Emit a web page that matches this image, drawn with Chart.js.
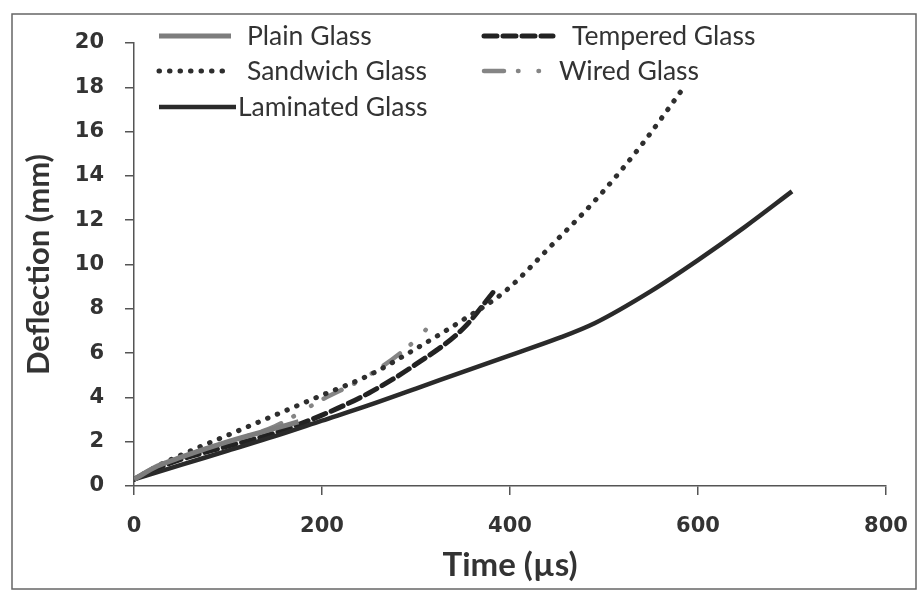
<!DOCTYPE html>
<html>
<head>
<meta charset="utf-8">
<script src="https://cdn.jsdelivr.net/npm/chart.js@4/dist/chart.umd.min.js"></script>
<style>
  html, body { margin: 0; padding: 0; background: #fff; }
  #wrap { width: 919px; height: 597px; }
</style>
</head>
<body>
<div id="wrap"><canvas id="chart" width="919" height="597"></canvas></div>
<script>
// time (µs) / deflection (mm)
const plainTime = [0, 25, 50, 100, 150, 175];
const plainDefl = [0.3, 0.9, 1.3, 2.0, 2.6, 2.9];

const temperedTime = [0, 25, 50, 100, 150, 200, 250, 300, 350, 385];
const temperedDefl = [0.3, 0.8, 1.2, 1.8, 2.4, 3.2, 4.2, 5.5, 7.1, 8.9];

const sandwichTime = [0, 25, 50, 100, 150, 200, 250, 300, 350, 395, 445, 495, 540, 585];
const sandwichDefl = [0.3, 0.9, 1.4, 2.3, 3.2, 4.1, 5.0, 6.2, 7.5, 8.8, 10.9, 13.1, 15.4, 18.0];

const wiredTime = [0, 25, 50, 100, 150, 200, 250, 300, 320];
const wiredDefl = [0.3, 0.9, 1.3, 2.0, 2.7, 3.9, 5.0, 6.6, 7.5];

const laminatedTime = [0, 50, 100, 150, 200, 250, 300, 350, 400, 450, 490, 550, 600, 650, 700];
const laminatedDefl = [0.3, 0.95, 1.6, 2.25, 2.95, 3.65, 4.4, 5.15, 5.9, 6.65, 7.35, 8.8, 10.2, 11.7, 13.3];

const xTicks = [0, 200, 400, 600, 800];
const yTicks = [0, 2, 4, 6, 8, 10, 12, 14, 16, 18, 20];

function pts(t, d) {
    return t.map((v, i) => ({ x: v, y: d[i] }));
}

// legend placement (two columns, three rows like the original)
const legendSpots = {
    "Plain Glass":     { x1: 159, x2: 231, tx: 247, y: 36 },
    "Sandwich Glass":  { x1: 159, x2: 231, tx: 247, y: 71 },
    "Laminated Glass": { x1: 159, x2: 236, tx: 238, y: 107 },
    "Tempered Glass":  { x1: 484, x2: 553, tx: 572, y: 36 },
    "Wired Glass":     { x1: 484, x2: 553, tx: 559, y: 71 }
};

const legendPlugin = {
    id: "legendPlugin",
    afterDraw(c) {
        const ctx = c.ctx;
        c.data.datasets.forEach(ds => {
            const s = legendSpots[ds.label];
            ctx.save();
            ctx.strokeStyle = ds.borderColor;
            ctx.lineWidth = ds.borderWidth;
            ctx.lineCap = ds.borderCapStyle || "butt";
            ctx.setLineDash(ds.borderDash || []);
            ctx.beginPath();
            ctx.moveTo(s.x1, s.y);
            ctx.lineTo(s.x2, s.y);
            ctx.stroke();
            ctx.setLineDash([]);
            ctx.fillStyle = "#333";
            ctx.font = "26.5px Lato";
            ctx.textBaseline = "middle";
            ctx.fillText(ds.label, s.tx, s.y);
            ctx.restore();
        });
    }
};

const framePlugin = {
    id: "framePlugin",
    beforeDraw(c) {
        const ctx = c.ctx;
        ctx.save();
        ctx.fillStyle = "#fff";
        ctx.fillRect(0, 0, c.width, c.height);
        ctx.strokeStyle = "#666";
        ctx.lineWidth = 1.5;
        ctx.strokeRect(12, 14, 904, 575);
        ctx.restore();
    }
};

const tickFont = { family: "DejaVu Sans", size: 21, weight: "bold" };
const titleFont = { family: "Lato", size: 33, weight: "bold" };

new Chart(document.getElementById("chart"), {
    type: "line",
    data: {
        datasets: [
            {
                label: "Plain Glass",
                data: pts(plainTime, plainDefl),
                borderColor: "#7d7d7d",
                borderWidth: 5
            },
            {
                label: "Sandwich Glass",
                data: pts(sandwichTime, sandwichDefl),
                borderColor: "#2e2e2e",
                borderWidth: 5,
                borderDash: [0.5, 10],
                borderCapStyle: "round"
            },
            {
                label: "Laminated Glass",
                data: pts(laminatedTime, laminatedDefl),
                borderColor: "#2a2a2a",
                borderWidth: 4.5
            },
            {
                label: "Tempered Glass",
                data: pts(temperedTime, temperedDefl),
                borderColor: "#222",
                borderWidth: 5,
                borderDash: [13, 6],
                borderCapStyle: "round"
            },
            {
                label: "Wired Glass",
                data: pts(wiredTime, wiredDefl),
                borderColor: "#858585",
                borderWidth: 4.5,
                borderDash: [20, 14, 0.5, 20, 0.5, 14],
                borderCapStyle: "round"
            }
        ]
    },
    options: {
        responsive: false,
        animation: false,
        layout: { padding: { left: 0, top: 43, right: 33, bottom: 0 } },
        elements: {
            point: { radius: 0 },
            line: { tension: 0.4, cubicInterpolationMode: "monotone", fill: false }
        },
        plugins: {
            legend: { display: false },
            tooltip: { enabled: false }
        },
        scales: {
            x: {
                type: "linear",
                min: 0,
                max: 800,
                afterFit: s => { s.height = 111; s.paddingLeft = 0; s.paddingRight = 0; },
                afterBuildTicks: s => { s.ticks = xTicks.map(v => ({ value: v })); },
                grid: { drawOnChartArea: false, tickLength: 9, color: "#555", lineWidth: 1.5 },
                border: { color: "#555", width: 1.5 },
                ticks: { padding: 19, color: "#333", font: tickFont },
                title: {
                    display: true,
                    text: "Time (µs)",
                    color: "#333",
                    padding: { top: 0, bottom: 12 },
                    font: titleFont
                }
            },
            y: {
                min: 0,
                max: 20,
                afterFit: s => { s.width = 134; s.paddingTop = 0; s.paddingBottom = 0; },
                afterBuildTicks: s => { s.ticks = yTicks.map(v => ({ value: v })); },
                grid: { drawOnChartArea: false, tickLength: 9, color: "#555", lineWidth: 1.5 },
                border: { color: "#555", width: 1.5 },
                ticks: { padding: 21, color: "#333", font: tickFont },
                title: {
                    display: true,
                    text: "Deflection (mm)",
                    color: "#333",
                    padding: { top: 20, bottom: 0 },
                    font: { family: "Lato", size: 31, weight: "bold" }
                }
            }
        }
    },
    plugins: [framePlugin, legendPlugin]
});
</script>
</body>
</html>
